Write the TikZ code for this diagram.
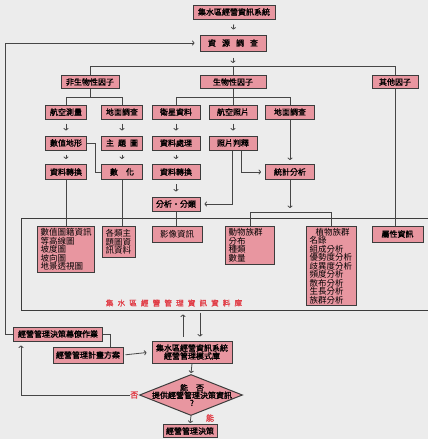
\documentclass[tikz,border=0pt]{standalone}
\usepackage{fontspec}
\setmainfont{Noto Sans CJK TC}[AutoFakeBold=1.5]
\usetikzlibrary{arrows.meta,shapes.geometric}
\definecolor{bgc}{RGB}{236,236,236}
\definecolor{pinkf}{RGB}{232,150,160}
\definecolor{bord}{RGB}{60,60,60}
\definecolor{lin}{RGB}{70,70,70}
\definecolor{redt}{RGB}{225,60,70}
\newcommand\gp{\hspace{4.2pt}}
\begin{document}
\begin{tikzpicture}[x=1pt,y=-1pt,
  bx/.style={draw=bord, fill=pinkf, line width=1pt, inner sep=0pt, font=\fontsize{8}{9}\selectfont\bfseries, align=center},
  sz/.style 2 args={minimum width=#1pt, minimum height=#2pt},
  dbx/.style={draw=bord, fill=pinkf, line width=1pt, inner xsep=3pt, inner ysep=1.5pt, font=\fontsize{8.5}{8.5}\selectfont, align=left, anchor=north west},
  ln/.style={draw=lin, line width=0.8pt},
  ar/.style={ln, -{To[length=2.5pt,width=5pt]}},
  sa/.style={ar, shorten <=4pt, shorten >=5pt},
  redl/.style={text=redt, font=\fontsize{8}{8}\selectfont\bfseries, inner sep=0.5pt}
]
\fill[bgc] (0,0) rectangle (428,439);
\useasboundingbox (0,0) rectangle (428,439);

% database frame
\node[draw=bord, line width=1pt, minimum width=419pt, minimum height=92pt, inner sep=0pt] (db) at (230.5,264) {};

% top part
\node[bx,sz={82}{14}] (top) at (234,12) {集水區經營資訊系統};
\node[bx,sz={66}{16}] (zy) at (233,43) {資\hspace{6pt}源\hspace{6pt}調\hspace{6pt}查};
\node[bx,sz={58}{13}] (f1) at (90,82) {非生物性因子};
\node[bx,sz={66}{13}] (f2) at (233,82) {生物性因子};
\node[bx,sz={46}{13}] (f3) at (395,82) {其他因子};

\node[bx,sz={41}{14}] (r1a) at (66,112) {航空測量};
\node[bx,sz={41}{14}] (r1b) at (122,112) {地面調查};
\node[bx,sz={48}{14}] (r1c) at (176,112) {衛星資料};
\node[bx,sz={48}{14}] (r1d) at (233,112) {航空照片};
\node[bx,sz={49}{14}] (r1e) at (290,112) {地面調查};

\node[bx,sz={41}{14}] (r2a) at (66,143) {數值地形};
\node[bx,sz={41}{14}] (r2b) at (122,143) {主\hspace{4pt}題\hspace{4pt}圖};
\node[bx,sz={48}{14}] (r2c) at (176,143) {資料處理};
\node[bx,sz={48}{14}] (r2d) at (233,143) {照片判釋};

\node[bx,sz={41}{15}] (r3a) at (66,172) {資料轉換};
\node[bx,sz={41}{15}] (r3b) at (122,172) {數\hspace{8pt}化};
\node[bx,sz={48}{15}] (r3c) at (176,172) {資料轉換};
\node[bx,sz={49}{15}] (r3e) at (290,172) {統計分析};
\node[bx,sz={48}{14}] (fx) at (176,204) {分析・分類};

% database boxes
\node[dbx, text width=51pt, minimum height=46pt] (d1) at (37,226) {數值圖籍資訊\\等高線圖\\坡度圖\\坡向圖\\地景透視圖};
\node[dbx, text width=27pt, minimum height=31pt] (d2) at (102,226) {各類主\\題圖資\\訊資料};
\node[bx,sz={50}{16}, font=\fontsize{8.5}{9}\selectfont] (d3) at (177,234) {影像資訊};
\node[dbx, text width=43pt, minimum height=38pt] (d4) at (225,226) {動物族群\\分布\\種類\\數量};
\node[dbx, text width=44pt, minimum height=77pt] (d5) at (306,226) {\hspace{6pt}植物族群\\名錄\\組成分析\\優勢度分析\\歧異度分析\\頻度分析\\散布分析\\生長分析\\族群分析};
\node[bx,sz={51}{16}] (d6) at (397.5,234) {屬性資訊};
\node[text=redt, font=\fontsize{7.5}{8}\selectfont\bfseries] (dbl) at (174,303) {集\gp 水\gp 區\gp 經\gp 營\gp 管\gp 理\gp 資\gp 訊\gp 資\gp 料\gp 庫};

% bottom part
\node[bx,sz={89}{14}] (m1) at (58,334) {經營管理決策幕僚作業};
\node[bx,sz={70}{16}] (m2) at (88,355) {經營管理計畫方案};
\node[bx,sz={80}{22}, font=\fontsize{8}{8}\selectfont\bfseries] (m3) at (192,352) {集水區經營資訊系統\\經營管理模式庫};
\node[draw=bord, fill=pinkf, line width=1pt, shape=diamond, minimum width=103pt, minimum height=41pt, inner sep=0pt] (dm) at (191,395) {};
\node[font=\fontsize{8}{7.5}\selectfont\bfseries, align=center, inner sep=0pt] (dmt) at (192,395) {能\hspace{8pt}否\\提供經營管理決策資訊\\?};
\node[bx,sz={54}{13}] (m4) at (190,431) {經營管理決策};
\node[redl, anchor=east] (no) at (dm.west) {否};
\node[redl] (yes) at (210,418) {能};

% connectors top
\coordinate (bl) at (90,66);
\coordinate (br) at (395,66);
\coordinate (s1) at (0,97);
\draw[ar, shorten <=5pt, shorten >=5pt] (top.south) -- (zy.north);
\draw[ar, shorten <=6pt, shorten >=3pt] (zy.south) -- (zy.south |- bl);
\draw[ln] (f1.north) -- (f1.north |- bl) -- (br) -- (f3.north);
\draw[ln] (f2.north) -- (f2.north |- bl);
\draw[ln] (f1.south) -- (f1.south |- s1);
\draw[ln] (r1a.north) -- (r1a.north |- s1) -- (r1b.north |- s1) -- (r1b.north);
\draw[ln] (f2.south) -- (f2.south |- s1);
\draw[ln] (r1c.north) -- (r1c.north |- s1) -- (r1e.north |- s1) -- (r1e.north);
\draw[ln] (r1d.north) -- (r1d.north |- s1);

\draw[sa] (r1a) -- (r2a);
\draw[sa] (r1b) -- (r2b);
\draw[sa] (r1c) -- (r2c);
\draw[sa] (r1d) -- (r2d);
\draw[sa] (r2a) -- (r3a);
\draw[sa] (r2b) -- (r3b);
\draw[sa] (r2c) -- (r3c);
\draw[sa] (r3c) -- (fx);
\draw[ar, shorten >=4pt] (r1e.south) -- (r3e.north);
\draw[ar, shorten >=4pt] ([xshift=8pt]r2d.south) -- ([xshift=8pt]r2d.south |- r3e.west) -- (r3e.west);
\draw[ar, shorten >=4pt] ([xshift=-1pt]r2d.south) -- ([xshift=-1pt]r2d.south |- fx.east) -- (fx.east);
\draw[ln] (r2a.east) -- ++(8,0) |- (r3b.west);

% to database
\coordinate (br2) at (0,212);
\draw[ln] (r3a.south) -- (r3a.south |- d1.north);
\draw[ln] (r3b.south) -- (r3b.south |- d2.north);
\draw[ln] (fx.south) -- (fx.south |- d3.north);
\draw[ar, shorten >=4pt] (r3e.south) -- (r3e.south |- br2);
\draw[ln] (d4.north) -- (d4.north |- br2) -- (d5.north |- br2) -- (d5.north);
\draw[ln] (f3.south) -- (f3.south |- d6.north);

% bottom connectors
\coordinate (lp) at (5,43);
\coordinate (k1) at (110,334);
\coordinate (k2) at (21,395);
\draw[ar, shorten >=5pt] (m1.west) -- (m1.west -| lp) -- (lp) -- (zy.west);
\draw[ln] (m1.east) -- (k1) -- (k1 |- m2.north);
\draw[ar, shorten <=2pt, shorten >=5pt] (m2.east) -- (m3.west);
\draw[ar, shorten <=4pt, shorten >=4pt] ([xshift=-9pt]m3.north) -- ([xshift=-9pt]m3.north |- db.south);
\draw[ar, shorten <=2pt, shorten >=4pt] ([xshift=8pt]m3.north |- db.south) -- ([xshift=8pt]m3.north);
\draw[ar, shorten >=1pt] (m3.south) -- (dm.north);
\draw[ar, shorten >=4pt] (no.west) -- (k2) -- (k2 |- m1.south);
\draw[ar, shorten >=1pt] (dm.south) -- (m4.north);
\end{tikzpicture}
\end{document}
